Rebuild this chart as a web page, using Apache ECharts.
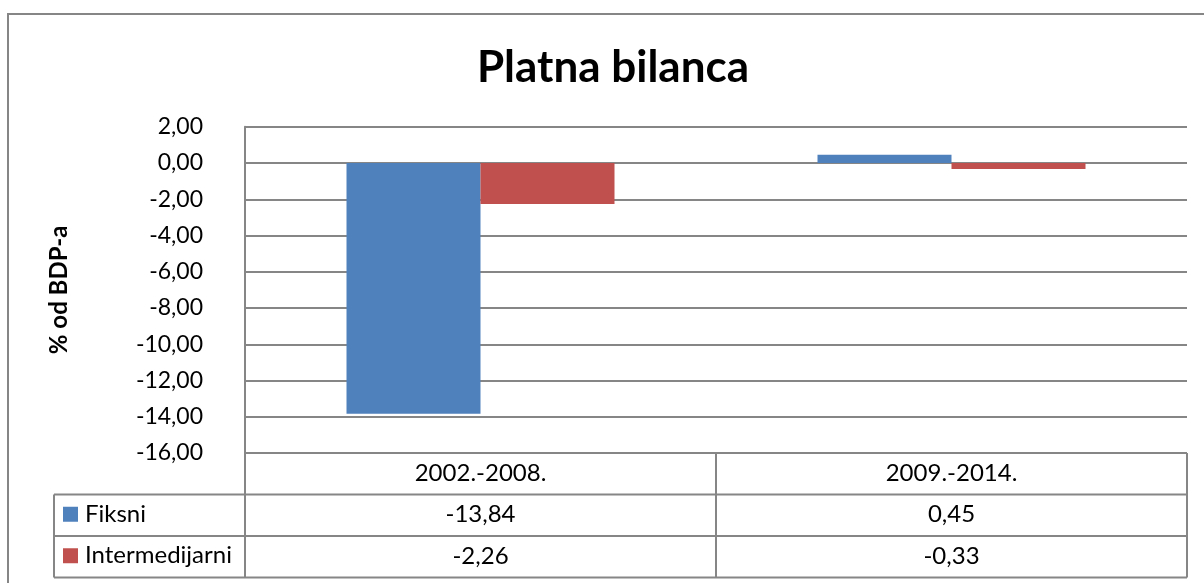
<!DOCTYPE html>
<html>
<head>
<meta charset="utf-8">
<title>Platna bilanca</title>
<script src="https://cdn.jsdelivr.net/npm/echarts@6/dist/echarts.min.js"></script>
<style>
  html, body { margin: 0; padding: 0; background: #fff; }
  #chart { width: 1204px; height: 583px; }
</style>
</head>
<body>
<div id="chart"></div>
<script>
// podaci
var categories = ['2002.-2008.', '2009.-2014.'];
var seriesNames = ['Fiksni', 'Intermedijarni'];
var fiksni = [-13.84, 0.45];
var intermedijarni = [-2.26, -0.33];
var yTicks = { min: -16, max: 2, step: 2 };

var lineColor = '#868686';
var colors = ['#4F81BD', '#C0504D'];
var font = 'Lato, "Open Sans", sans-serif';

// raspored
var W = 1204, H = 583;
var gridLeft = 245, gridRight = 1187, gridTop = 126.75, gridBottom = 453;
var rowH = 41.5;
var legendLeft = 54;

function fmt(v) {
  return v.toFixed(2).replace('.', ',');
}

var chart = echarts.init(document.getElementById('chart'), null, { renderer: 'canvas' });

// linije tablice ispod grafa
var tableLines = [];
for (var r = 1; r <= 3; r++) {
  var y = gridBottom + r * rowH;
  tableLines.push({ type: 'line', shape: { x1: legendLeft, y1: y, x2: gridRight, y2: y } });
}
var colW = (gridRight - gridLeft) / categories.length;
[gridLeft, gridLeft + colW, gridRight].forEach(function (x) {
  tableLines.push({ type: 'line', shape: { x1: x, y1: gridBottom, x2: x, y2: gridBottom + 3 * rowH } });
});
tableLines.push({ type: 'line', shape: { x1: legendLeft, y1: gridBottom + rowH, x2: legendLeft, y2: gridBottom + 3 * rowH } });
tableLines.forEach(function (l) {
  l.style = { stroke: lineColor, lineWidth: 2 };
  l.silent = true;
});

function valueAxis(idx, values) {
  return {
    type: 'category',
    gridIndex: 0,
    data: categories,
    position: 'bottom',
    offset: idx * rowH,
    axisLine: { show: false },
    axisTick: { show: false },
    axisLabel: {
      margin: 8,
      fontSize: 24,
      fontFamily: font,
      color: '#000',
      formatter: function (v, i) { return values ? fmt(values[i]) : v; }
    }
  };
}

var option = {
  animation: false,
  title: {
    text: 'Platna bilanca',
    left: 608,
    top: 41,
    textAlign: 'center',
    textStyle: { fontSize: 44, fontWeight: 'bold', fontFamily: font, color: '#000' }
  },
  legend: [0, 1].map(function (i) {
    return {
      data: [seriesNames[i]],
      left: 63,
      top: gridBottom + (i + 1.5) * rowH - 13,
      padding: 0,
      icon: 'rect',
      itemWidth: 15,
      itemHeight: 15,
      itemGap: 0,
      selectedMode: false,
      textStyle: { fontSize: 24, fontFamily: font, color: '#000', padding: [0, 0, 0, 2] }
    };
  }),
  grid: {
    left: gridLeft,
    right: W - gridRight,
    top: gridTop,
    bottom: H - gridBottom
  },
  xAxis: [
    valueAxis(0, null),
    valueAxis(1, fiksni),
    valueAxis(2, intermedijarni)
  ],
  yAxis: {
    type: 'value',
    min: yTicks.min,
    max: yTicks.max,
    interval: yTicks.step,
    name: '% od BDP-a',
    nameLocation: 'middle',
    nameRotate: 90,
    nameGap: 174,
    nameTextStyle: { fontSize: 24, fontWeight: 'bold', fontFamily: font, color: '#000' },
    axisLine: { show: true, lineStyle: { color: lineColor, width: 2 } },
    axisTick: { show: false },
    axisLabel: {
      margin: 42,
      fontSize: 23,
      fontFamily: font,
      color: '#000',
      formatter: fmt
    },
    splitLine: { show: true, lineStyle: { color: lineColor, width: 2 } }
  },
  series: [
    {
      name: seriesNames[0],
      type: 'bar',
      data: fiksni,
      barWidth: 134,
      barGap: '0%',
      itemStyle: { color: colors[0] }
    },
    {
      name: seriesNames[1],
      type: 'bar',
      data: intermedijarni,
      barWidth: 134,
      barGap: '0%',
      itemStyle: { color: colors[1] }
    }
  ],
  graphic: [
    {
      type: 'rect',
      silent: true,
      shape: { x: 8, y: 14, width: W + 20, height: H + 20 },
      style: { fill: 'none', stroke: lineColor, lineWidth: 2 }
    }
  ].concat(tableLines)
};

chart.setOption(option);
</script>
</body>
</html>
